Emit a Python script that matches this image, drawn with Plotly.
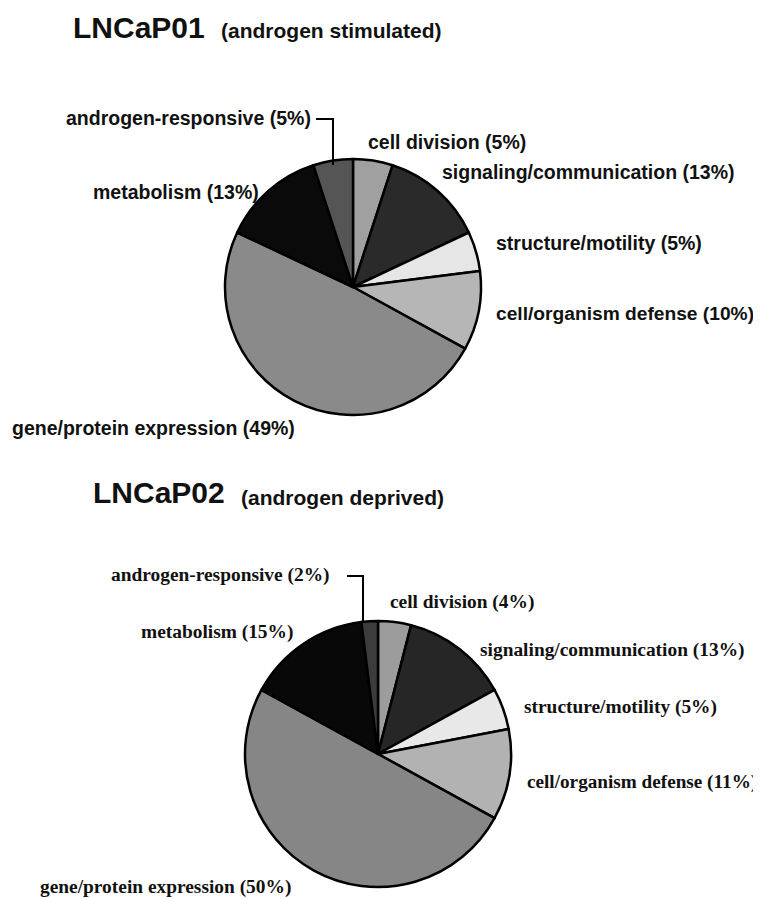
import plotly.graph_objects as go

# page is 761x899; the default HTML body has an 8px margin, so the figure is
# made 8px smaller and all page-pixel positions are shifted by 8px.
OFF = 8
W, H = 761 - OFF, 899 - OFF

categories = ["cell division", "signaling/communication", "structure/motility",
              "cell/organism defense", "gene/protein expression", "metabolism",
              "androgen-responsive"]
values_p01 = [5, 13, 5, 10, 49, 13, 5]
values_p02 = [4, 13, 5, 11, 50, 15, 2]
colors_p01 = ["#a0a0a0", "#2a2a2a", "#e6e6e6", "#b6b6b6", "#8a8a8a", "#0a0a0a", "#555555"]
colors_p02 = ["#9c9c9c", "#262626", "#e8e8e8", "#b2b2b2", "#868686", "#080808", "#3c3c3c"]


def px(x):
    return (x - OFF) / W


def py(y):
    return 1 - (y - OFF) / H


def dom(cx, cy, r):
    return dict(x=[px(cx - r), px(cx + r)], y=[py(cy + r), py(cy - r)])


fig = go.Figure()
fig.add_trace(go.Pie(values=values_p01, labels=categories, sort=False, direction="clockwise",
                     rotation=0, textinfo="none", hoverinfo="label+percent",
                     marker=dict(colors=colors_p01, line=dict(color="black", width=2.5)),
                     domain=dom(353, 287, 128), showlegend=False))
fig.add_trace(go.Pie(values=values_p02, labels=categories, sort=False, direction="clockwise",
                     rotation=0, textinfo="none", hoverinfo="label+percent",
                     marker=dict(colors=colors_p02, line=dict(color="black", width=2.5)),
                     domain=dom(378, 754, 133), showlegend=False))

SANS = "Liberation Sans, Arial, sans-serif"
SERIF = "Liberation Serif, Times New Roman, serif"

annotations = []


def lab(text, x, y, anchor, family, size):
    annotations.append(dict(text="<b>%s</b>" % text, x=px(x), y=py(y), xref="paper", yref="paper",
                            xanchor=anchor, yanchor="middle", showarrow=False,
                            font=dict(family=family, size=size, color="#111111")))


# titles
lab("LNCaP01", 71, 27, "left", SANS, 30)
lab("(androgen stimulated)", 219, 31, "left", SANS, 21)
lab("LNCaP02", 91, 493, "left", SANS, 30)
lab("(androgen deprived)", 239, 497, "left", SANS, 21)

l1 = ["%s (%d%%)" % (c, v) for c, v in zip(categories, values_p01)]
l2 = ["%s (%d%%)" % (c, v) for c, v in zip(categories, values_p02)]

S1, S2 = 19.5, 19.4
# pie 1 labels (sans bold)
lab(l1[0], 366, 142, "left", SANS, S1)
lab(l1[1], 440, 172, "left", SANS, S1)
lab(l1[2], 494, 243, "left", SANS, S1)
lab(l1[3], 494, 313, "left", SANS, 19.2)
lab(l1[4], 297, 428, "right", SANS, S1)
lab(l1[5], 261, 192, "right", SANS, S1)
lab(l1[6], 313, 118, "right", SANS, S1)

# pie 2 labels (serif bold)
lab(l2[0], 388, 602, "left", SERIF, S2)
lab(l2[1], 478, 650, "left", SERIF, S2)
lab(l2[2], 522, 707, "left", SERIF, S2)
lab(l2[3], 525, 782, "left", SERIF, 19.2)
lab(l2[4], 293, 887, "right", SERIF, S2)
lab(l2[5], 295, 632, "right", SERIF, S2)
lab(l2[6], 332, 575, "right", SERIF, S2)

shapes = [
    dict(type="path", xref="paper", yref="paper",
         path="M %f %f L %f %f L %f %f" % (px(316), py(119), px(333), py(119), px(333), py(165)),
         line=dict(color="black", width=2)),
    dict(type="path", xref="paper", yref="paper",
         path="M %f %f L %f %f L %f %f" % (px(347), py(576), px(363), py(576), px(363), py(623)),
         line=dict(color="black", width=2)),
]

fig.update_layout(width=W, height=H, margin=dict(l=0, r=0, t=0, b=0),
                  paper_bgcolor="white", plot_bgcolor="white",
                  annotations=annotations, shapes=shapes, showlegend=False)

fig.write_html("out.html")
